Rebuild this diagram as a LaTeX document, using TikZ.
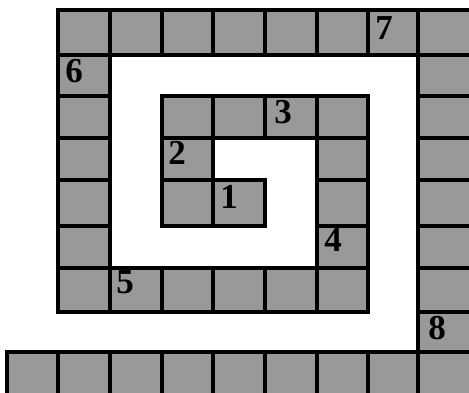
\documentclass[tikz,border=0pt]{standalone}
\usepackage{fontspec}
\setmainfont{Liberation Serif}
\begin{document}
\begin{tikzpicture}[x=1pt,y=-1pt,
  cellbox/.style={fill=black!40,draw=black,line width=3.6pt},
  num/.style={inner sep=0pt,font=\fontsize{35}{35}\selectfont\bfseries}]
\useasboundingbox (0,0) rectangle (469,392);
\fill[white] (0,0) rectangle (469,392);
\clip (0,0) rectangle (469,392);
\def\xs{{7,58,110,162,213,265,317,368,418,474}}
\def\ys{{10,55,96,138,180,226,268,312,352,398}}
\foreach \c/\r in {3/4,2/4,2/3,2/2,3/2,4/2,5/2,5/3,5/4,5/5,5/6,4/6,3/6,2/6,1/6,0/6,
  0/5,0/4,0/3,0/2,0/1,0/0,1/0,2/0,3/0,4/0,5/0,6/0,
  7/0,7/1,7/2,7/3,7/4,7/5,7/6,7/7,7/8,
  6/8,5/8,4/8,3/8,2/8,1/8,0/8,-1/8} {
  \pgfmathsetmacro\xa{\xs[\c+1]}
  \pgfmathsetmacro\xb{\xs[\c+2]}
  \pgfmathsetmacro\ya{\ys[\r]}
  \pgfmathsetmacro\yb{\ys[\r+1]}
  \draw[cellbox] (\xa,\ya) rectangle (\xb,\yb);
}
\node[num] (n1) at (229,197) {1};
\node[num] (n2) at (177,153) {2};
\node[num] (n3) at (283,112) {3};
\node[num] (n4) at (333,240) {4};
\node[num] (n5) at (125,282) {5};
\node[num] (n6) at (74,71) {6};
\node[num] (n7) at (384,28) {7};
\node[num] (n8) at (437,328) {8};
\end{tikzpicture}
\end{document}
